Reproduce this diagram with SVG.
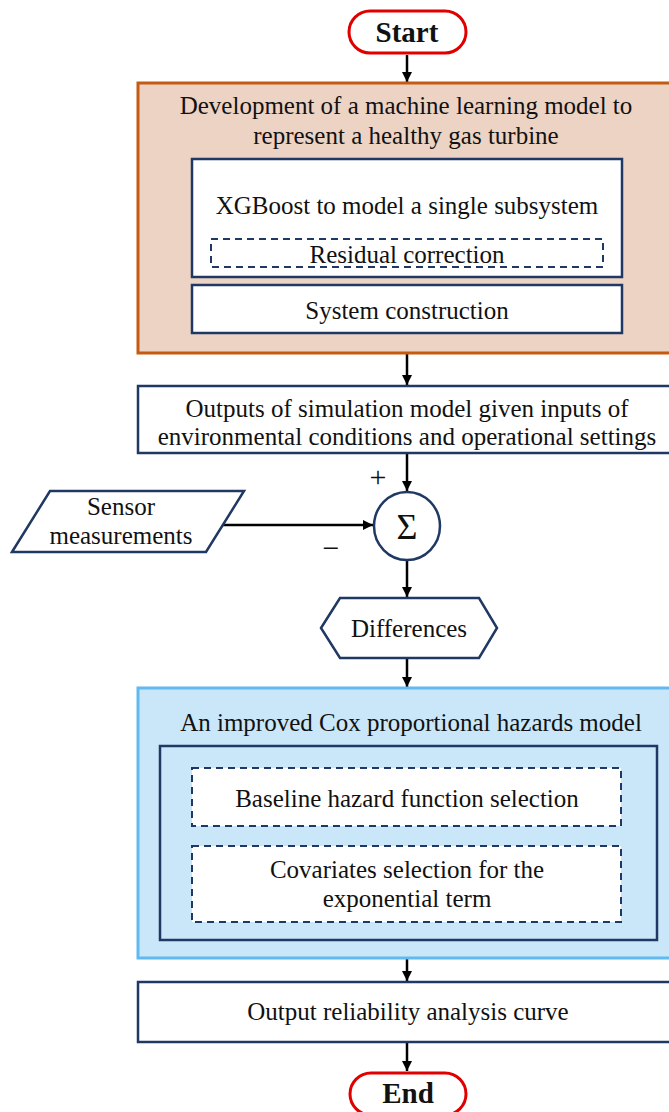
<svg xmlns="http://www.w3.org/2000/svg" width="669" height="1112" viewBox="0 0 669 1112">
<defs>
<marker id="ah" viewBox="0 0 10 10" refX="10" refY="5" markerWidth="10" markerHeight="10" orient="auto" markerUnits="userSpaceOnUse">
<path d="M0,0 L10,5 L0,10 z" fill="#000"/>
</marker>
<style>
text{font-family:"Liberation Serif","Times New Roman",serif;font-size:25px;fill:#111;text-anchor:middle}
.b{font-weight:bold;font-size:29px}
.term{fill:#fff;stroke:#E00000;stroke-width:3}
.nv{fill:#fff;stroke:#203864;stroke-width:2.5}
.dash{fill:#fff;stroke:#203864;stroke-width:2;stroke-dasharray:7,5}
.conn{stroke:#000;stroke-width:2.5;fill:none;marker-end:url(#ah)}
.sign{font-size:30px}
</style>
</defs>
<rect width="669" height="1112" fill="#fff"/>
<g id="connectors">
<line class="conn" x1="407" y1="55" x2="407" y2="82"/>
<line class="conn" x1="407" y1="354" x2="407" y2="385"/>
<line class="conn" x1="407" y1="454" x2="407" y2="491"/>
<line class="conn" x1="220" y1="525" x2="373" y2="525"/>
<line class="conn" x1="407" y1="560" x2="407" y2="597"/>
<line class="conn" x1="407" y1="659" x2="407" y2="687"/>
<line class="conn" x1="407" y1="959" x2="407" y2="981"/>
<line class="conn" x1="407" y1="1043" x2="407" y2="1071"/>
</g>
<g id="start">
<rect class="term" x="349" y="11" width="117" height="42" rx="21"/>
<text class="b" x="407" y="42">Start</text>
</g>
<g id="ml-model">
<rect x="138" y="83" width="545" height="270" fill="#ECD3C4" stroke="#C55A11" stroke-width="3"/>
<text x="406" y="114">Development of a machine learning model to</text>
<text x="406" y="144">represent a healthy gas turbine</text>
</g>
<g id="xgboost">
<rect class="nv" x="192" y="159" width="430" height="118"/>
<text x="407" y="214">XGBoost to model a single subsystem</text>
</g>
<g id="residual">
<rect class="dash" x="211" y="239" width="392" height="28"/>
<text x="407" y="263">Residual correction</text>
</g>
<g id="system">
<rect class="nv" x="192" y="285" width="430" height="48"/>
<text x="407" y="319">System construction</text>
</g>
<g id="outputs">
<rect class="nv" x="138" y="386" width="545" height="67"/>
<text x="407" y="417">Outputs of simulation model given inputs of</text>
<text x="407" y="445">environmental conditions and operational settings</text>
</g>
<g id="sensor">
<polygon class="nv" points="12,552 50,491 244,491 206,552"/>
<text x="121" y="515">Sensor</text>
<text x="121" y="544">measurements</text>
</g>
<g id="sum">
<ellipse class="nv" cx="407" cy="526" rx="33" ry="34"/>
<text x="407" y="539" style="font-size:36px">Σ</text>
<text class="sign" x="378" y="487">+</text>
<text class="sign" x="331" y="558">−</text>
</g>
<g id="differences">
<polygon class="nv" points="321,628 340,598 479,598 497,628 479,658 340,658"/>
<text x="409" y="637">Differences</text>
</g>
<g id="cox">
<rect x="138" y="688" width="545" height="270" fill="#CAE7F9" stroke="#61B9F1" stroke-width="3"/>
<text x="411" y="731">An improved Cox proportional hazards model</text>
<rect x="160" y="746" width="497" height="194" fill="none" stroke="#203864" stroke-width="2.5"/>
</g>
<g id="baseline">
<rect class="dash" x="192" y="768" width="429" height="58"/>
<text x="407" y="807">Baseline hazard function selection</text>
</g>
<g id="covariates">
<rect class="dash" x="192" y="846" width="429" height="76"/>
<text x="407" y="878">Covariates selection for the</text>
<text x="407" y="907">exponential term</text>
</g>
<g id="reliability">
<rect class="nv" x="138" y="982" width="545" height="60"/>
<text x="408" y="1020">Output reliability analysis curve</text>
</g>
<g id="end">
<rect class="term" x="350" y="1073" width="116" height="42" rx="21"/>
<text class="b" x="408" y="1103">End</text>
</g>
</svg>
